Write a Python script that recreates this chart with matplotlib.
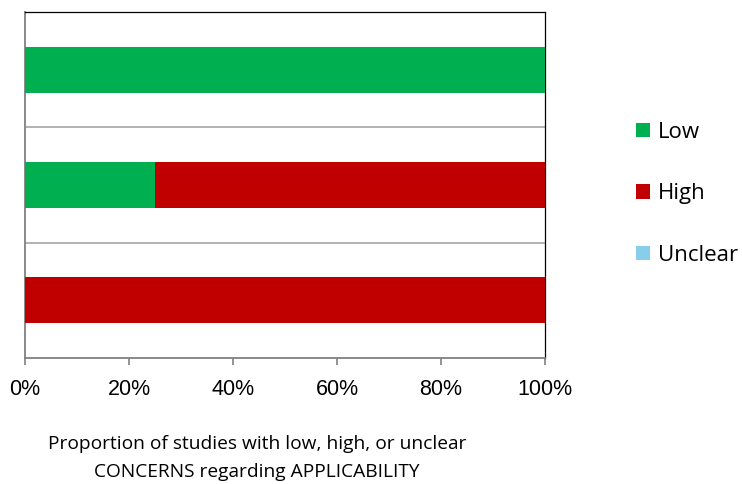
import matplotlib
matplotlib.use("Agg")
import matplotlib.pyplot as plt
import numpy as np

# Studies grouped into three domains (top to bottom), shares in percent
categories = ["Domain 1", "Domain 2", "Domain 3"]
low = [100, 25, 0]
high = [0, 75, 100]
unclear = [0, 0, 0]

series_names = ["Low", "High", "Unclear"]
colors = ["#00B050", "#C00000", "#87CEEB"]
tick_values = [0, 20, 40, 60, 80, 100]
tick_labels = ["0%", "20%", "40%", "60%", "80%", "100%"]
axis_title = "Proportion of studies with low, high, or unclear\nCONCERNS regarding APPLICABILITY"

fig = plt.figure(figsize=(7.42, 4.84), dpi=100)
ax = fig.add_axes([25 / 742, 1 - 358 / 484, 520 / 742, 346 / 484])

ypos = np.arange(len(categories))[::-1]
left = np.zeros(len(categories))
handles = []
for name, vals, c in zip(series_names, [low, high, unclear], colors):
    vals = np.array(vals, dtype=float)
    h = ax.barh(ypos, vals, left=left, height=0.4, color=c, label=name, zorder=3)
    handles.append(h)
    left += vals

ax.set_xlim(0, 100)
ax.set_ylim(-0.5, len(categories) - 0.5)

# category separators
for b in np.arange(0.5, len(categories) - 0.5, 1.0):
    ax.axhline(b, color="#A6A6A6", linewidth=1.2, zorder=1)

ax.set_yticks([])
ax.set_xticks(tick_values)
ax.set_xticklabels(tick_labels, fontsize=15.5, family="Liberation Sans")
ax.tick_params(axis="x", direction="out", length=5, width=1.2, color="#808080", pad=10)

for s in ["left", "bottom"]:
    ax.spines[s].set_color("#808080")
    ax.spines[s].set_linewidth(1.3)
for s in ["top", "right"]:
    ax.spines[s].set_color("#000000")
    ax.spines[s].set_linewidth(0.9)

fig.text(257 / 742, 1 - 458 / 484, axis_title, ha="center", va="center",
         fontsize=13.8, family="Open Sans", linespacing=1.72)

leg = fig.legend(handles=handles, labels=series_names, loc="upper left",
                 bbox_to_anchor=(616 / 742, 1 - 102 / 484), frameon=False,
                 prop={"family": "Open Sans", "size": 16}, handlelength=0.62,
                 handleheight=0.62, handletextpad=0.35, labelspacing=1.82)

fig.savefig("out.png", dpi=100)
